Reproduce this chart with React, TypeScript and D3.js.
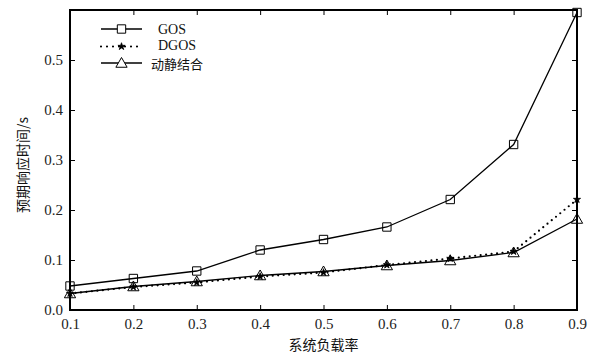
import * as d3 from "d3";
import { useEffect, useRef } from "react";

const loads = [0.1, 0.2, 0.3, 0.4, 0.5, 0.6, 0.7, 0.8, 0.9];
const gos = [0.048, 0.063, 0.078, 0.12, 0.141, 0.166, 0.221, 0.331, 0.595];
const dgos = [0.033, 0.046, 0.055, 0.067, 0.075, 0.09, 0.103, 0.117, 0.221];
const mixed = [0.033, 0.047, 0.057, 0.069, 0.077, 0.089, 0.099, 0.115, 0.182];
const yTicks = [0.0, 0.1, 0.2, 0.3, 0.4, 0.5];
const seriesNames = ["GOS", "DGOS", "动静结合"];

export default function App() {
    const svgRef = useRef<SVGSVGElement>(null);
    const width = 594;
    const height = 356;
    const margin = { left: 70, right: 17, top: 10, bottom: 46 };

    useEffect(() => {
        const svg = d3.select(svgRef.current);
        svg.selectAll("*").remove();

        const x = d3.scaleLinear().domain([0.1, 0.9]).range([margin.left, width - margin.right]);
        const y = d3.scaleLinear().domain([0, 0.6]).range([height - margin.bottom, margin.top]);
        const serif = "'Liberation Serif', 'Times New Roman', serif";
        const cjk = "'Noto Sans CJK SC', sans-serif";

        // ticks, inward on all four sides
        const axes = svg.append("g");
        axes.append("g")
            .attr("transform", `translate(0,${y(0)})`)
            .call(d3.axisBottom(x).tickValues(loads).tickSizeInner(-5).tickSizeOuter(0).tickPadding(8).tickFormat(d3.format(".1f")))
            .call(g => g.select(".domain").remove())
            .call(g => g.selectAll("text").attr("font-family", serif).attr("font-size", 15).attr("fill", "#222"));
        axes.append("g")
            .attr("transform", `translate(0,${y(0.6)})`)
            .call(d3.axisTop(x).tickValues(loads).tickSizeInner(-5).tickSizeOuter(0).tickFormat(() => ""))
            .call(g => g.select(".domain").remove());
        axes.append("g")
            .attr("transform", `translate(${x(0.1)},0)`)
            .call(d3.axisLeft(y).tickValues(yTicks).tickSizeInner(-5).tickSizeOuter(0).tickPadding(7).tickFormat(d3.format(".1f")))
            .call(g => g.select(".domain").remove())
            .call(g => g.selectAll("text").attr("font-family", serif).attr("font-size", 15).attr("fill", "#222"));
        axes.append("g")
            .attr("transform", `translate(${x(0.9)},0)`)
            .call(d3.axisRight(y).tickValues(yTicks).tickSizeInner(-5).tickSizeOuter(0).tickFormat(() => ""))
            .call(g => g.select(".domain").remove());

        svg.append("rect")
            .attr("x", x(0.1)).attr("y", y(0.6))
            .attr("width", x(0.9) - x(0.1)).attr("height", y(0) - y(0.6))
            .attr("fill", "none").attr("stroke", "#000").attr("stroke-width", 2);

        const line = d3.line<number>().x((d, i) => x(loads[i])).y(d => y(d));

        // GOS
        svg.append("path").attr("d", line(gos)).attr("fill", "none").attr("stroke", "#000").attr("stroke-width", 1.3);
        // DGOS dotted
        svg.append("path").attr("d", line(dgos)).attr("fill", "none").attr("stroke", "#000")
            .attr("stroke-width", 2.2).attr("stroke-dasharray", "0,5.5").attr("stroke-linecap", "round");
        // 动静结合
        svg.append("path").attr("d", line(mixed)).attr("fill", "none").attr("stroke", "#000").attr("stroke-width", 1.3);

        const sq = d3.symbol().type(d3.symbolSquare).size(70);
        const tri = d3.symbol().type(d3.symbolTriangle).size(55);
        const star = d3.symbol().type(d3.symbolStar).size(16);

        svg.append("g").selectAll("path").data(gos).join("path")
            .attr("d", sq).attr("transform", (d, i) => `translate(${x(loads[i])},${y(d)})`)
            .attr("fill", "none").attr("stroke", "#000").attr("stroke-width", 1);
        svg.append("g").selectAll("path").data(dgos).join("path")
            .attr("d", star).attr("transform", (d, i) => `translate(${x(loads[i])},${y(d)})`)
            .attr("fill", "#000").attr("stroke", "#000").attr("stroke-width", 0.8);
        svg.append("g").selectAll("path").data(mixed).join("path")
            .attr("d", tri).attr("transform", (d, i) => `translate(${x(loads[i])},${y(d) + 1})`)
            .attr("fill", "none").attr("stroke", "#000").attr("stroke-width", 1);

        // legend
        const legend = svg.append("g");
        const rows = [29, 46.5, 63];
        const textRows = [29, 45.5, 64.5];
        legend.append("line").attr("x1", 101).attr("x2", 142).attr("y1", rows[0]).attr("y2", rows[0]).attr("stroke", "#000").attr("stroke-width", 1.3);
        legend.append("path").attr("d", sq).attr("transform", `translate(121.5,${rows[0]})`).attr("fill", "#fff").attr("stroke", "#000");
        legend.append("line").attr("x1", 101).attr("x2", 142).attr("y1", rows[1]).attr("y2", rows[1]).attr("stroke", "#000")
            .attr("stroke-width", 2.2).attr("stroke-dasharray", "0,6").attr("stroke-linecap", "round");
        legend.append("path").attr("d", star).attr("transform", `translate(121.5,${rows[1]})`).attr("fill", "#000").attr("stroke", "#000").attr("stroke-width", 0.8);
        legend.append("line").attr("x1", 101).attr("x2", 142).attr("y1", rows[2]).attr("y2", rows[2]).attr("stroke", "#000").attr("stroke-width", 1.3);
        legend.append("path").attr("d", tri).attr("transform", `translate(121.5,${rows[2] + 1})`).attr("fill", "#fff").attr("stroke", "#000");

        legend.selectAll("text").data(seriesNames).join("text")
            .attr("x", (d, i) => i === 2 ? 151 : 158)
            .attr("y", (d, i) => textRows[i])
            .attr("dy", "0.35em")
            .attr("font-family", (d, i) => i === 2 ? cjk : serif)
            .attr("font-size", (d, i) => i === 2 ? 13 : 14)
            .attr("fill", "#111")
            .text(d => d);

        // axis titles
        svg.append("text")
            .attr("x", (x(0.1) + x(0.9)) / 2).attr("y", 345).attr("dy", "0.35em")
            .attr("text-anchor", "middle").attr("font-family", cjk).attr("font-size", 14).attr("fill", "#111")
            .text("系统负载率");
        svg.append("text")
            .attr("transform", `translate(23,${(y(0) + y(0.6)) / 2 + 5}) rotate(-90)`)
            .attr("dy", "0.35em")
            .attr("text-anchor", "middle").attr("font-family", cjk).attr("font-size", 14).attr("fill", "#111")
            .text("预期响应时间/s");
    }, []);

    return <svg ref={svgRef} width={width} height={height} style={{ position: "absolute", left: 0, top: 0, background: "#fff" }} />;
}
